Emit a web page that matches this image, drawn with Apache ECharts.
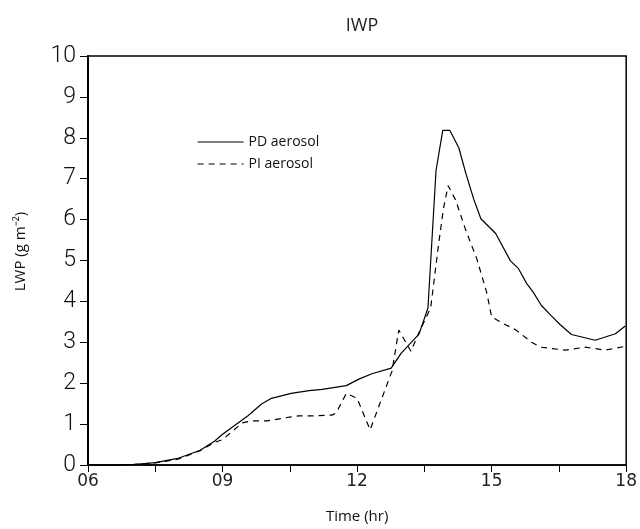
<!DOCTYPE html>
<html>
<head>
<meta charset="utf-8">
<title>IWP</title>
<script src="https://cdn.jsdelivr.net/npm/echarts@6/dist/echarts.min.js"></script>
<style>
  html, body { margin: 0; padding: 0; background: #fff; }
  #chart { width: 640px; height: 529px; }
</style>
</head>
<body>
<div id="chart"></div>
<script>
// time (hr) and LWP (g m-2)
var pdTime = [6.0, 6.5, 7.0, 7.5, 8.0, 8.5, 8.82, 9.0, 9.56, 9.87, 10.09, 10.53, 10.93, 11.22, 11.76, 12.04, 12.33, 12.76, 12.98, 13.38, 13.58, 13.76, 13.91, 14.07, 14.27, 14.42, 14.6, 14.76, 15.09, 15.42, 15.6, 15.78, 15.93, 16.11, 16.31, 16.53, 16.78, 17.31, 17.76, 17.98]
var pdValue = [0, 0, 0.01, 0.06, 0.16, 0.36, 0.58, 0.75, 1.2, 1.49, 1.63, 1.75, 1.82, 1.85, 1.94, 2.1, 2.23, 2.37, 2.73, 3.2, 3.84, 7.2, 8.18, 8.18, 7.75, 7.15, 6.5, 6.02, 5.66, 4.99, 4.8, 4.44, 4.22, 3.9, 3.67, 3.43, 3.19, 3.05, 3.21, 3.4]

var piTime = [6.0, 6.5, 7.0, 7.5, 8.0, 8.5, 8.82, 9.0, 9.44, 9.64, 10.0, 10.49, 10.7, 10.98, 11.44, 11.53, 11.76, 12.0, 12.29, 12.78, 12.93, 13.2, 13.38, 13.64, 13.82, 13.93, 14.03, 14.2, 14.42, 14.67, 14.89, 15.0, 15.22, 15.53, 15.89, 16.09, 16.64, 17.09, 17.53, 17.98]
var piValue = [0, 0, 0.01, 0.05, 0.14, 0.35, 0.55, 0.62, 1.03, 1.08, 1.08, 1.17, 1.2, 1.2, 1.22, 1.27, 1.75, 1.63, 0.86, 2.3, 3.3, 2.78, 3.24, 3.84, 5.42, 6.3, 6.83, 6.47, 5.75, 5.04, 4.22, 3.62, 3.48, 3.31, 3.0, 2.88, 2.81, 2.88, 2.81, 2.9]

var seriesNames = ['PD aerosol', 'PI aerosol']

function pairs(xs, ys) {
  return xs.map(function(x, i) { return [x, ys[i]] })
}

var chart = echarts.init(document.getElementById('chart'))
chart.setOption({
  animation: false,
  title: {
    text: 'IWP',
    left: 357,
    textAlign: 'center',
    top: 12,
    textStyle: { color: '#222', fontWeight: 'normal', fontSize: 18, fontFamily: 'Open Sans' }
  },
  legend: {
    data: seriesNames,
    orient: 'vertical',
    left: 192,
    top: 130,
    itemWidth: 46,
    itemHeight: 14,
    itemGap: 8,
    itemStyle: { opacity: 0 }, // hide the symbol, keep the line sample
    lineStyle: { width: 1.2 },
    textStyle: { color: '#111', fontSize: 14, fontFamily: 'Open Sans' }
  },
  grid: {
    left: 88,
    right: 13,
    top: 56,
    bottom: 56,
    show: true,
    borderColor: '#000',
    borderWidth: 1.5
  },
  xAxis: {
    type: 'value',
    min: 6,
    max: 18,
    interval: 1.5,
    name: 'Time (hr)',
    nameLocation: 'middle',
    nameGap: 44,
    nameTextStyle: { color: '#111', fontSize: 15, fontFamily: 'Open Sans' },
    axisLine: { lineStyle: { color: '#000', width: 1.5 } },
    axisTick: { length: 7, lineStyle: { color: '#000' } },
    splitLine: { show: false },
    axisLabel: {
      color: '#222',
      fontSize: 17,
      fontFamily: 'DejaVu Sans',
      margin: 8,
      formatter: function(v) {
        return v % 3 === 0 ? String(v).padStart(2, '0') : ''
      }
    }
  },
  yAxis: {
    type: 'value',
    min: 0,
    max: 10,
    interval: 1,
    name: 'LWP (g m⁻²)',
    nameLocation: 'middle',
    nameGap: 60,
    nameTextStyle: { color: '#111', fontSize: 15, fontFamily: 'Open Sans', padding: [0, 0, 0, 18] },
    axisLine: { show: true, lineStyle: { color: '#000', width: 2 } },
    axisTick: { show: true, length: 8, lineStyle: { color: '#000' } },
    splitLine: { show: false },
    axisLabel: {
      color: '#111',
      fontSize: 23,
      fontFamily: 'Roboto',
      fontWeight: 300,
      margin: 12
    }
  },
  series: [
    {
      name: seriesNames[0],
      type: 'line',
      data: pairs(pdTime, pdValue),
      symbol: 'none',
      lineStyle: { color: '#000', width: 1.2, type: 'solid' },
      itemStyle: { color: '#000' }
    },
    {
      name: seriesNames[1],
      type: 'line',
      data: pairs(piTime, piValue),
      symbol: 'none',
      lineStyle: { color: '#000', width: 1.2, type: [6, 5] },
      itemStyle: { color: '#000' }
    }
  ]
})
</script>
</body>
</html>
